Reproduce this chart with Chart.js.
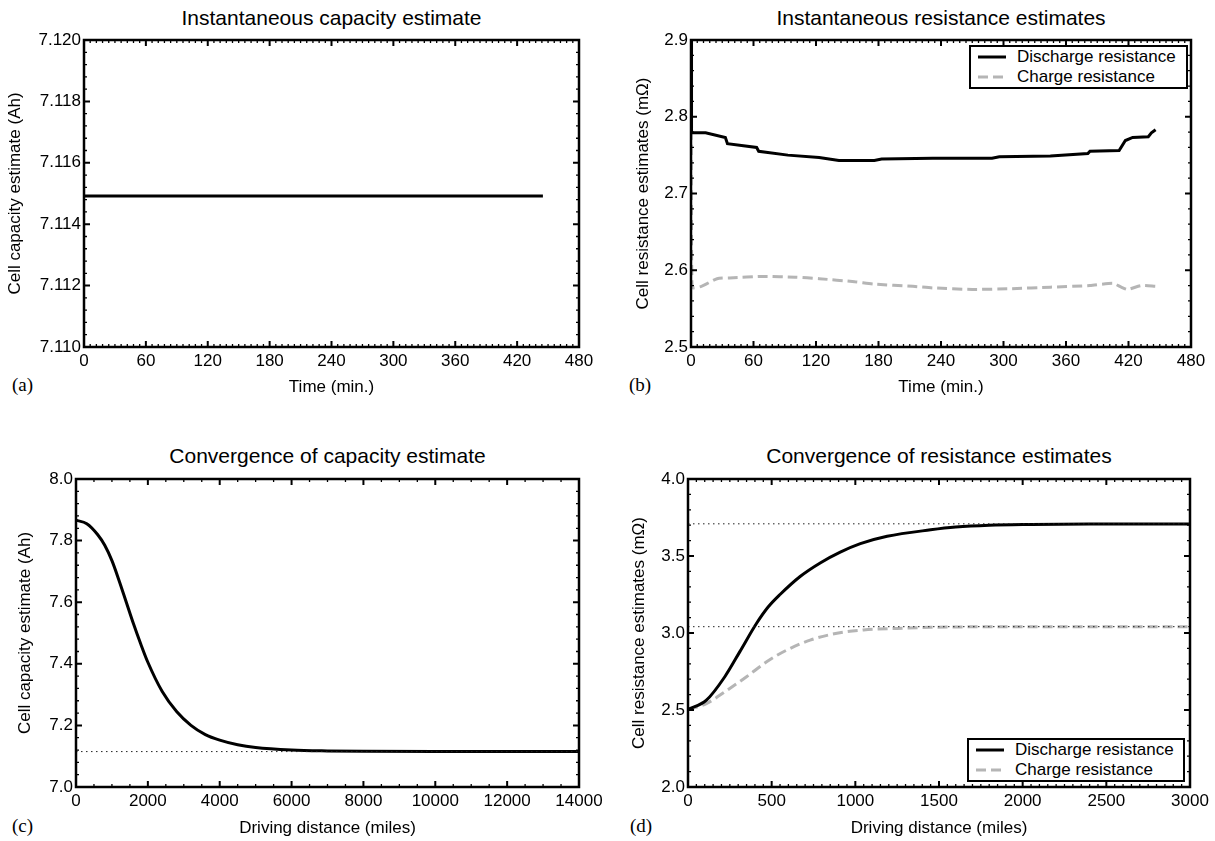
<!DOCTYPE html>
<html lang="en">
<head>
<meta charset="UTF-8">
<title>Capacity and resistance estimates</title>
<script src="https://cdn.jsdelivr.net/npm/chart.js"></script>
<style>
  body { margin: 0; background: #fff; font-family: "Liberation Sans", Arial, sans-serif; color: #000; }
  #page { position: relative; width: 1215px; height: 841px; overflow: hidden; }
  canvas { position: absolute; }
  .title { position: absolute; font-size: 21px; line-height: 1; white-space: nowrap; transform: translateX(-50%); }
  .tag { position: absolute; font-family: "Liberation Serif", "Times New Roman", serif; font-size: 19px; line-height: 1; }
  .legend { position: absolute; border: 2px solid #000; background: #fff; font-size: 17px; }
  .legend div { display: flex; align-items: center; height: 20px; padding-left: 7px; white-space: nowrap; }
  .legend svg { margin-right: 11px; flex: none; }
</style>
</head>
<body>
<div id="page">
  <div class="title" style="left:331.5px; top:7px">Instantaneous capacity estimate</div>
  <div class="title" style="left:941px; top:7px">Instantaneous resistance estimates</div>
  <div class="title" style="left:327.5px; top:445px">Convergence of capacity estimate</div>
  <div class="title" style="left:939px; top:445px">Convergence of resistance estimates</div>
  <div class="tag" style="left:12px; top:375px">(a)</div>
  <div class="tag" style="left:629px; top:375px">(b)</div>
  <div class="tag" style="left:12px; top:816px">(c)</div>
  <div class="tag" style="left:630px; top:816px">(d)</div>
</div>

<script>
  // (a) instantaneous capacity, time in minutes
  const capTime = [0, 60, 120, 180, 240, 300, 360, 420, 445];
  const capInst = [7.11492, 7.11492, 7.11492, 7.11492, 7.11492, 7.11492, 7.11492, 7.11492, 7.11492];

  // (b) instantaneous resistances
  const disTime = [0, 0.5, 14, 33, 35, 63, 65, 93, 123, 142, 176, 183, 232, 289, 296, 345, 381, 383, 411, 417, 424, 439, 442, 446];
  const disInst = [2.9, 2.779, 2.779, 2.773, 2.765, 2.760, 2.755, 2.750, 2.747, 2.743, 2.743, 2.745, 2.746, 2.746, 2.748, 2.749, 2.752, 2.755, 2.756, 2.769, 2.773, 2.774, 2.779, 2.783];
  const chgTime = [0, 1, 10, 25, 37, 70, 100, 123, 157, 176, 213, 232, 270, 308, 345, 383, 405, 413, 419, 432, 446];
  const chgInst = [2.9, 2.578, 2.579, 2.589, 2.590, 2.592, 2.591, 2.589, 2.585, 2.582, 2.579, 2.577, 2.575, 2.576, 2.578, 2.580, 2.583, 2.578, 2.575, 2.580, 2.579];

  // (c) capacity convergence vs driving distance (miles)
  const capDist = [0, 300, 600, 800, 1000, 1200, 1400, 1600, 1800, 2000, 2400, 2800, 3200, 3600, 4000, 4500, 5000, 6000, 7000, 8000, 10000, 12000, 14000];
  const capConv = [7.866, 7.855, 7.820, 7.785, 7.735, 7.670, 7.600, 7.530, 7.465, 7.405, 7.310, 7.245, 7.200, 7.170, 7.152, 7.137, 7.128, 7.120, 7.117, 7.1157, 7.115, 7.115, 7.115];
  const capTrue = [7.115];

  // (d) resistance convergence vs driving distance (miles)
  const disDist = [0, 110, 220, 310, 410, 480, 550, 670, 790, 910, 1030, 1190, 1450, 1600, 1800, 2050, 2400, 3000];
  const disConv = [2.503, 2.564, 2.716, 2.879, 3.063, 3.170, 3.250, 3.367, 3.455, 3.525, 3.580, 3.628, 3.670, 3.688, 3.700, 3.705, 3.708, 3.708];
  const chgDist = [0, 110, 220, 350, 470, 590, 730, 890, 1050, 1250, 1450, 1700, 2000, 3000];
  const chgConv = [2.503, 2.542, 2.618, 2.716, 2.813, 2.889, 2.954, 2.998, 3.020, 3.030, 3.037, 3.040, 3.041, 3.041];
  const resTrue = [3.709, 3.041];

  // tick labels
  const timeTicks = [0, 60, 120, 180, 240, 300, 360, 420, 480];
  const capTicksA = [7.110, 7.112, 7.114, 7.116, 7.118, 7.120];
  const resTicksB = [2.5, 2.6, 2.7, 2.8, 2.9];
  const distTicksC = [0, 2000, 4000, 6000, 8000, 10000, 12000, 14000];
  const capTicksC = [7.0, 7.2, 7.4, 7.6, 7.8, 8.0];
  const distTicksD = [0, 500, 1000, 1500, 2000, 2500, 3000];
  const resTicksD = [2.0, 2.5, 3.0, 3.5, 4.0];

  Chart.defaults.font.family = '"Liberation Sans", Arial, sans-serif';
  Chart.defaults.color = '#000';

  const page = document.getElementById('page');
  const BLACK = '#000';
  const GREY = '#b5b5b5';

  const pts = (xs, ys) => xs.map((x, i) => ({ x, y: ys[i] }));

  function between(vals, n) {
    const out = [];
    for (let i = 0; i < vals.length - 1; i++) {
      const step = (vals[i + 1] - vals[i]) / n;
      for (let j = 1; j < n; j++) out.push(vals[i] + j * step);
    }
    return out;
  }

  // box round the axes with inward ticks on all four sides
  const framePlugin = {
    id: 'frame',
    afterDatasetsDraw(chart, args, o) {
      const { ctx, chartArea: a, scales: { x, y } } = chart;
      const xs = x.ticks.map(t => t.value);
      const ys = y.ticks.map(t => t.value);
      ctx.save();
      ctx.strokeStyle = '#000';

      ctx.beginPath();
      between(xs, o.xMinor).forEach(v => {
        const px = x.getPixelForValue(v);
        ctx.moveTo(px, a.bottom); ctx.lineTo(px, a.bottom - 3);
        ctx.moveTo(px, a.top); ctx.lineTo(px, a.top + 3);
      });
      between(ys, o.yMinor).forEach(v => {
        const py = y.getPixelForValue(v);
        ctx.moveTo(a.left, py); ctx.lineTo(a.left + 3, py);
        ctx.moveTo(a.right, py); ctx.lineTo(a.right - 3, py);
      });
      ctx.lineWidth = 1.3;
      ctx.stroke();

      ctx.beginPath();
      xs.forEach(v => {
        const px = x.getPixelForValue(v);
        ctx.moveTo(px, a.bottom); ctx.lineTo(px, a.bottom - 6);
        ctx.moveTo(px, a.top); ctx.lineTo(px, a.top + 6);
      });
      ys.forEach(v => {
        const py = y.getPixelForValue(v);
        ctx.moveTo(a.left, py); ctx.lineTo(a.left + 6, py);
        ctx.moveTo(a.right, py); ctx.lineTo(a.right - 6, py);
      });
      ctx.lineWidth = 2;
      ctx.stroke();

      ctx.lineWidth = 2.5;
      ctx.strokeRect(a.left, a.top, a.right - a.left, a.bottom - a.top);
      ctx.restore();
    }
  };

  const tickFont = { size: 17 };
  const labelFont = { size: 17 };

  function makePanel(p) {
    const cv = document.createElement('canvas');
    cv.width = p.w;
    cv.height = p.h;
    cv.style.left = p.left + 'px';
    cv.style.top = p.top + 'px';
    page.appendChild(cv);

    return new Chart(cv, {
      type: 'line',
      data: { datasets: p.datasets },
      options: {
        responsive: false,
        animation: false,
        devicePixelRatio: 1,
        layout: { padding: p.pad },
        elements: { point: { radius: 0 } },
        plugins: {
          legend: { display: false },
          tooltip: { enabled: false },
          frame: { xMinor: p.xMinor, yMinor: p.yMinor }
        },
        scales: {
          x: {
            type: 'linear',
            min: p.xTicks[0],
            max: p.xTicks[p.xTicks.length - 1],
            afterBuildTicks: s => { s.ticks = p.xTicks.map(v => ({ value: v })); },
            afterFit: s => { s.height = p.xHeight; },
            grid: { display: false, drawTicks: false },
            border: { display: false },
            ticks: { autoSkip: false, maxRotation: 0, padding: 4, font: tickFont, callback: v => String(v) },
            title: { display: true, text: p.xTitle, font: labelFont, padding: 0 }
          },
          y: {
            type: 'linear',
            min: p.yTicks[0],
            max: p.yTicks[p.yTicks.length - 1],
            afterBuildTicks: s => { s.ticks = p.yTicks.map(v => ({ value: v })); },
            afterFit: s => { s.width = p.yWidth; },
            grid: { display: false, drawTicks: false },
            border: { display: false },
            ticks: { autoSkip: false, padding: 3, font: tickFont, callback: v => v.toFixed(p.yDec) },
            title: { display: true, text: p.yTitle, font: labelFont, padding: 0 }
          }
        }
      },
      plugins: [framePlugin]
    });
  }

  function addLegend(chart, box) {
    const el = document.createElement('div');
    el.className = 'legend';
    el.style.left = box.left + 'px';
    el.style.top = box.top + 'px';
    el.style.width = box.width + 'px';
    chart.data.datasets.filter(d => d.label).forEach(d => {
      const row = document.createElement('div');
      const dash = (d.borderDash || []).join(' ');
      row.innerHTML = '<svg width="28" height="6"><line x1="0" y1="3" x2="28" y2="3" stroke="' + d.borderColor +
        '" stroke-width="' + d.borderWidth + '" stroke-dasharray="' + dash + '"/></svg><span>' + d.label + '</span>';
      el.appendChild(row);
    });
    page.appendChild(el);
  }

  const refLine = (xs, v) => ({
    data: pts([xs[0], xs[xs.length - 1]], [v, v]),
    borderColor: '#222', borderWidth: 1, borderDash: [1.5, 3.5]
  });

  // (a)
  makePanel({
    left: 0, top: 0, w: 600, h: 420,
    pad: { left: 5, top: 40, right: 21, bottom: 22 }, yWidth: 79, xHeight: 51,
    xTicks: timeTicks, yTicks: capTicksA, yDec: 3, xMinor: 10, yMinor: 5,
    xTitle: 'Time (min.)', yTitle: 'Cell capacity estimate (Ah)',
    datasets: [
      { label: 'Capacity', data: pts(capTime, capInst), borderColor: BLACK, borderWidth: 3, tension: 0 }
    ]
  });

  // (b)
  const chartB = makePanel({
    left: 600, top: 0, w: 615, h: 420,
    pad: { left: 33, top: 40, right: 24, bottom: 22 }, yWidth: 58, xHeight: 51,
    xTicks: timeTicks, yTicks: resTicksB, yDec: 1, xMinor: 10, yMinor: 5,
    xTitle: 'Time (min.)', yTitle: 'Cell resistance estimates (mΩ)',
    datasets: [
      { label: 'Charge resistance', data: pts(chgTime, chgInst), borderColor: GREY, borderWidth: 3, borderDash: [10, 5], tension: 0.2, order: 2 },
      { label: 'Discharge resistance', data: pts(disTime, disInst), borderColor: BLACK, borderWidth: 3, tension: 0, order: 1 }
    ]
  });
  chartB.data.datasets.reverse();
  addLegend(chartB, { left: 969, top: 45, width: 215 });

  // (c)
  makePanel({
    left: 0, top: 420, w: 615, h: 421,
    pad: { left: 15, top: 59, right: 36, bottom: 2 }, yWidth: 61, xHeight: 52,
    xTicks: distTicksC, yTicks: capTicksC, yDec: 1, xMinor: 4, yMinor: 5,
    xTitle: 'Driving distance (miles)', yTitle: 'Cell capacity estimate (Ah)',
    datasets: [
      refLine(distTicksC, capTrue[0]),
      { data: pts(capDist, capConv), borderColor: BLACK, borderWidth: 3, cubicInterpolationMode: 'monotone' }
    ]
  });

  // (d)
  const chartD = makePanel({
    left: 600, top: 420, w: 615, h: 421,
    pad: { left: 29, top: 59, right: 25, bottom: 2 }, yWidth: 59, xHeight: 52,
    xTicks: distTicksD, yTicks: resTicksD, yDec: 1, xMinor: 10, yMinor: 5,
    xTitle: 'Driving distance (miles)', yTitle: 'Cell resistance estimates (mΩ)',
    datasets: [
      refLine(distTicksD, resTrue[0]),
      refLine(distTicksD, resTrue[1]),
      { label: 'Discharge resistance', data: pts(disDist, disConv), borderColor: BLACK, borderWidth: 3, cubicInterpolationMode: 'monotone' },
      { label: 'Charge resistance', data: pts(chgDist, chgConv), borderColor: GREY, borderWidth: 3, borderDash: [10, 5], cubicInterpolationMode: 'monotone' }
    ]
  });
  addLegend(chartD, { left: 967, top: 738, width: 214 });
</script>
</body>
</html>
